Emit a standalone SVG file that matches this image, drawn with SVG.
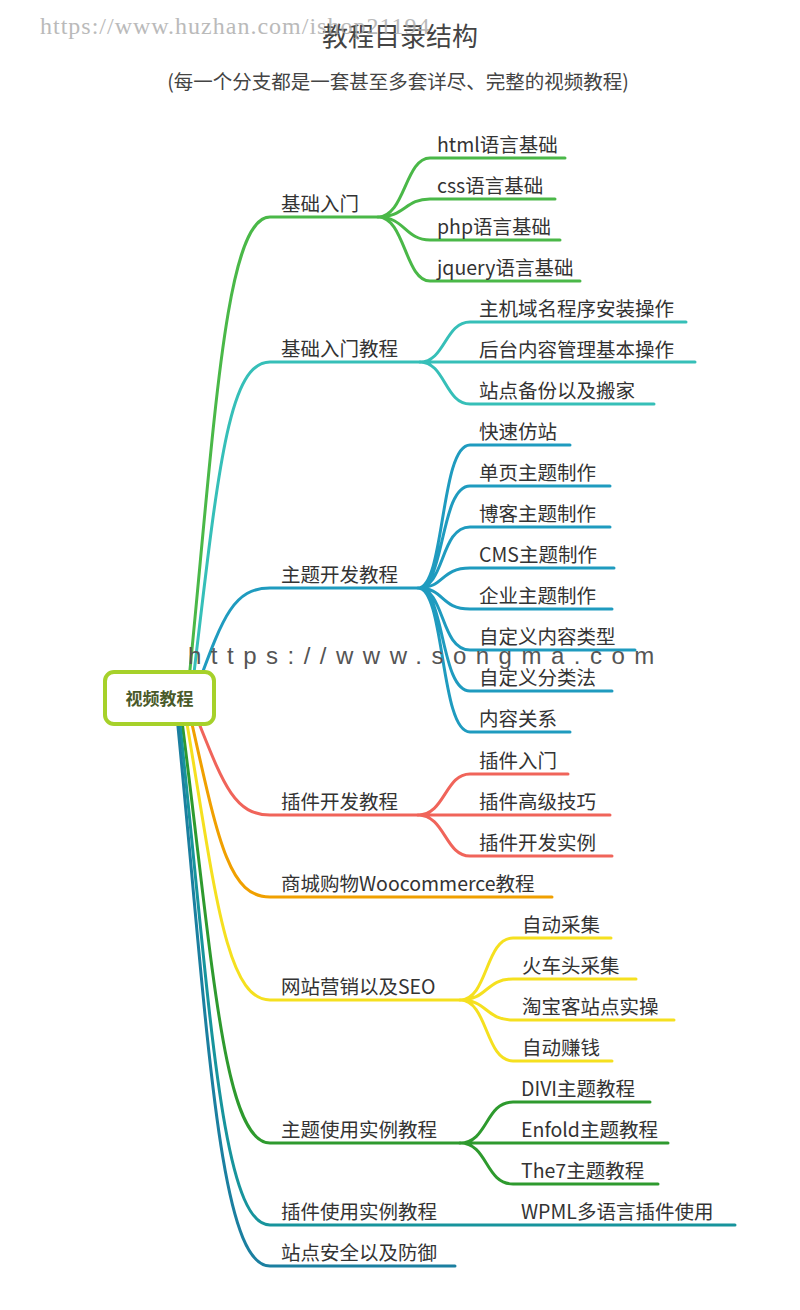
<svg xmlns="http://www.w3.org/2000/svg" width="800" height="1310" viewBox="0 0 800 1310">
<style>
text{font-family:"Noto Sans CJK SC","Liberation Sans",sans-serif;fill:#333;font-size:19.5px}
path{fill:none;stroke-width:3;stroke-linecap:round}
.g1{stroke:#4ab848}.g2{stroke:#36bfb8}.g3{stroke:#1f9bbf}.g4{stroke:#f0645a}.g5{stroke:#f0a000}.g6{stroke:#f5e01f}.g7{stroke:#2e9a2e}.g8{stroke:#17949c}.g9{stroke:#1b7fa0}
text.wm{font-family:"Liberation Serif",serif;fill:#aaa;opacity:.8;font-size:24px;letter-spacing:1px}
text.title{font-size:26px;fill:#444}
text.sub{font-size:19.5px;fill:#444}
text.root{font-size:17px;font-weight:bold;fill:#4a5a2a}
text.wm2{font-family:"Liberation Sans",sans-serif;font-size:24px;fill:#555;letter-spacing:9.5px}
</style>
<rect width="800" height="1310" fill="#fff"/>
<text class="title" x="400" y="46" text-anchor="middle">教程目录结构</text>
<text class="sub" x="398" y="89" text-anchor="middle">(每一个分支都是一套甚至多套详尽、完整的视频教程)</text>
<g id="connectors">
<path class="g1" d="M188,690 C215,420 225,217 270,217 L378,217"/>
<path class="g2" d="M192,690 C218,470 228,362 270,362 L420,362"/>
<path class="g3" d="M196,690 C222,620 232,588 270,588 L418,588"/>
<path class="g4" d="M192,706 C222,780 232,815 270,815 L418,815"/>
<path class="g5" d="M188,706 C218,840 228,897 270,897 L552,897"/>
<path class="g6" d="M184,706 C214,880 224,1000 270,1000 L460,1000"/>
<path class="g7" d="M180,706 C212,950 222,1143 270,1143 L460,1143"/>
<path class="g8" d="M178,706 C210,1000 220,1225 270,1225 L735,1225"/>
<path class="g9" d="M176,706 C208,1030 218,1266 270,1266 L455,1266"/>
<path class="g1" d="M378,217 C405,217 405,158 430,158 L565,158 M378,217 C405,217 405,199 430,199 L555,199 M378,217 C405,217 405,240 430,240 L560,240 M378,217 C405,217 405,281 430,281 L580,281"/>
<path class="g2" d="M420,362 C445,362 445,322 470,322 L686,322 M420,362 L695,362 M420,362 C445,362 445,404 470,404 L654,404"/>
<path class="g3" d="M418,588 C445,588 440,445 470,445 L570,445 M418,588 C445,588 440,486 470,486 L610,486 M418,588 C445,588 440,527 470,527 L610,527 M418,588 C445,588 440,568 470,568 L614,568 M418,588 C445,588 440,609 470,609 L612,609 M418,588 C445,588 440,650 470,650 L635,650 M418,588 C445,588 440,691 470,691 L612,691 M418,588 C445,588 440,732 470,732 L570,732"/>
<path class="g4" d="M418,815 C445,815 445,774 470,774 L568,774 M418,815 L610,815 M418,815 C445,815 445,856 470,856 L612,856"/>
<path class="g6" d="M460,1000 C488,1000 485,938 513,938 L611,938 M460,1000 C488,1000 485,979 513,979 L636,979 M460,1000 C488,1000 485,1020 513,1020 L674,1020 M460,1000 C488,1000 485,1061 513,1061 L612,1061"/>
<path class="g7" d="M460,1143 C488,1143 485,1102 513,1102 L650,1102 M460,1143 L668,1143 M460,1143 C488,1143 485,1184 513,1184 L658,1184"/>
</g>
<g id="root"><rect x="105" y="672" width="109" height="52" rx="9" fill="#fff" stroke="#a6d12a" stroke-width="4"/><text class="root" x="159.5" y="705" text-anchor="middle">视频教程</text></g>
<g id="n1"><text x="281" y="211">基础入门</text><text x="437" y="152">html语言基础</text><text x="437" y="193">css语言基础</text><text x="437" y="234">php语言基础</text><text x="437" y="275">jquery语言基础</text></g>
<g id="n2"><text x="281" y="356">基础入门教程</text><text x="479" y="316">主机域名程序安装操作</text><text x="479" y="357">后台内容管理基本操作</text><text x="479" y="398">站点备份以及搬家</text></g>
<g id="n3"><text x="281" y="582">主题开发教程</text><text x="479" y="439">快速仿站</text><text x="479" y="480">单页主题制作</text><text x="479" y="521">博客主题制作</text><text x="479" y="562">CMS主题制作</text><text x="479" y="603">企业主题制作</text><text x="479" y="644">自定义内容类型</text><text x="479" y="685">自定义分类法</text><text x="479" y="726">内容关系</text></g>
<g id="n4"><text x="281" y="809">插件开发教程</text><text x="479" y="768">插件入门</text><text x="479" y="809">插件高级技巧</text><text x="479" y="850">插件开发实例</text></g>
<g id="n5"><text x="281" y="891">商城购物Woocommerce教程</text></g>
<g id="n6"><text x="281" y="994">网站营销以及SEO</text><text x="522" y="932">自动采集</text><text x="522" y="973">火车头采集</text><text x="522" y="1014">淘宝客站点实操</text><text x="522" y="1055">自动赚钱</text></g>
<g id="n7"><text x="281" y="1137">主题使用实例教程</text><text x="521" y="1096">DIVI主题教程</text><text x="521" y="1137">Enfold主题教程</text><text x="521" y="1178">The7主题教程</text></g>
<g id="n8"><text x="281" y="1219">插件使用实例教程</text><text x="521" y="1219">WPML多语言插件使用</text></g>
<g id="n9"><text x="281" y="1260">站点安全以及防御</text></g>
<text class="wm" x="40" y="34">https://www.huzhan.com/ishop21194</text>
<text class="wm2" x="188" y="664">https://www.songma.com</text>
</svg>
